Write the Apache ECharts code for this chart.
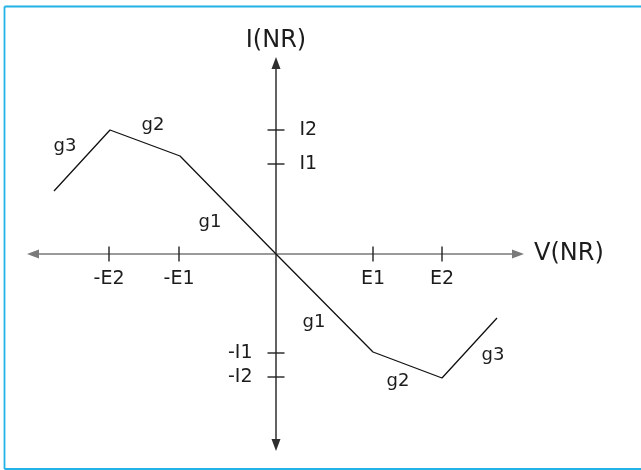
<!DOCTYPE html>
<html>
<head>
<meta charset="utf-8">
<script src="https://cdn.jsdelivr.net/npm/echarts@6/dist/echarts.min.js"></script>
<style>
  html, body { margin: 0; padding: 0; background: #fff; overflow: hidden; }
  #main { width: 641px; height: 470px; }
</style>
</head>
<body>
<div id="main"></div>
<script>
// 曲线折点 (V, I)，原点在坐标轴交点
var voltage = [-222, -166, -96, 0, 97, 166, 221];
var current = [63, 124, 98, 0, -98, -124, -64];

// 横轴刻度
var vTicks = [-167, -97, 97, 166];
var vTickNames = ['-E2', '-E1', 'E1', 'E2'];

// 纵轴刻度
var iTicks = [124, 90, -99, -123];
var iTickNames = ['I2', 'I1', '-I1', '-I2'];

// 斜率标注
var slopeNames = ['g3', 'g2', 'g1', 'g1', 'g2', 'g3'];
var slopeV = [-211, -123, -66, 38, 122, 217];
var slopeI = [108, 129, 32, -68, -127, -101];

var vRange = [-243, 242];
var iRange = [-191, 191];

var textColor = '#1c1c1c';
var font = 'DejaVu Sans';

var docChart = document.getElementById('main');
var myChart = echarts.init(docChart);

var curveData = voltage.map(function (v, i) { return [v, current[i]]; });

var vTickData = vTicks.map(function (v, i) {
    return { value: [v, 0], name: vTickNames[i] };
});

var iTickData = iTicks.map(function (v, i) {
    return {
        value: [0, v],
        name: iTickNames[i],
        label: { position: v > 0 ? 'right' : 'left', distance: 15 }
    };
});

var slopeData = slopeNames.map(function (n, i) {
    return { value: [slopeV[i], slopeI[i]], name: n };
});

var borderStyle = { stroke: '#22b2e6', lineWidth: 1.8 };

var option = {
    animation: false,
    grid: {
        left: 33,
        right: 123,
        top: 63,
        bottom: 25,
        containLabel: false,
        outerBoundsMode: 'none'
    },
    // 外框：左、上、下三边
    graphic: [
        { type: 'line', shape: { x1: 4.5, y1: 6.5, x2: 641, y2: 6.5 }, style: borderStyle, silent: true },
        { type: 'line', shape: { x1: 4.5, y1: 6.5, x2: 4.5, y2: 469 }, style: borderStyle, silent: true },
        { type: 'line', shape: { x1: 4.5, y1: 469, x2: 641, y2: 469 }, style: borderStyle, silent: true }
    ],
    xAxis: {
        type: 'value',
        min: vRange[0],
        max: vRange[1],
        name: 'V(NR)',
        nameLocation: 'end',
        nameGap: 16,
        nameTextStyle: { color: textColor, fontSize: 24, fontFamily: font },
        axisLine: {
            onZero: true,
            symbol: ['triangle', 'triangle'],
            symbolSize: [9, 12],
            lineStyle: { color: '#7a7a7a', width: 1.5 }
        },
        axisTick: { show: false },
        axisLabel: { show: false },
        splitLine: { show: false }
    },
    yAxis: {
        type: 'value',
        min: iRange[0],
        max: iRange[1],
        name: 'I(NR)',
        nameLocation: 'end',
        nameGap: 10,
        nameTextStyle: { color: textColor, fontSize: 24, fontFamily: font },
        axisLine: {
            onZero: true,
            symbol: ['triangle', 'triangle'],
            symbolSize: [9, 12],
            lineStyle: { color: '#2e2e2e', width: 1.5 }
        },
        axisTick: { show: false },
        axisLabel: { show: false },
        splitLine: { show: false }
    },
    series: [
        {
            type: 'line',
            data: curveData,
            symbol: 'none',
            lineStyle: { color: '#111', width: 1.3 },
            z: 3
        },
        {
            type: 'scatter',
            data: vTickData,
            symbol: 'rect',
            symbolSize: [1.4, 15],
            itemStyle: { color: '#222', opacity: 1 },
            label: {
                show: true,
                position: 'bottom',
                distance: 8,
                formatter: '{b}',
                color: textColor,
                opacity: 1,
                fontSize: 19,
                fontFamily: font
            },
            clip: false,
            z: 4
        },
        {
            type: 'scatter',
            data: iTickData,
            symbol: 'rect',
            symbolSize: [17, 1.4],
            itemStyle: { color: '#222', opacity: 1 },
            label: {
                show: true,
                formatter: '{b}',
                color: textColor,
                opacity: 1,
                fontSize: 19,
                fontFamily: font
            },
            clip: false,
            z: 4
        },
        {
            type: 'scatter',
            data: slopeData,
            symbolSize: 0,
            itemStyle: { opacity: 1 },
            label: {
                show: true,
                position: 'inside',
                formatter: '{b}',
                color: textColor,
                opacity: 1,
                fontSize: 18,
                fontFamily: font
            },
            clip: false,
            z: 4
        }
    ]
};

myChart.setOption(option);
</script>
</body>
</html>
